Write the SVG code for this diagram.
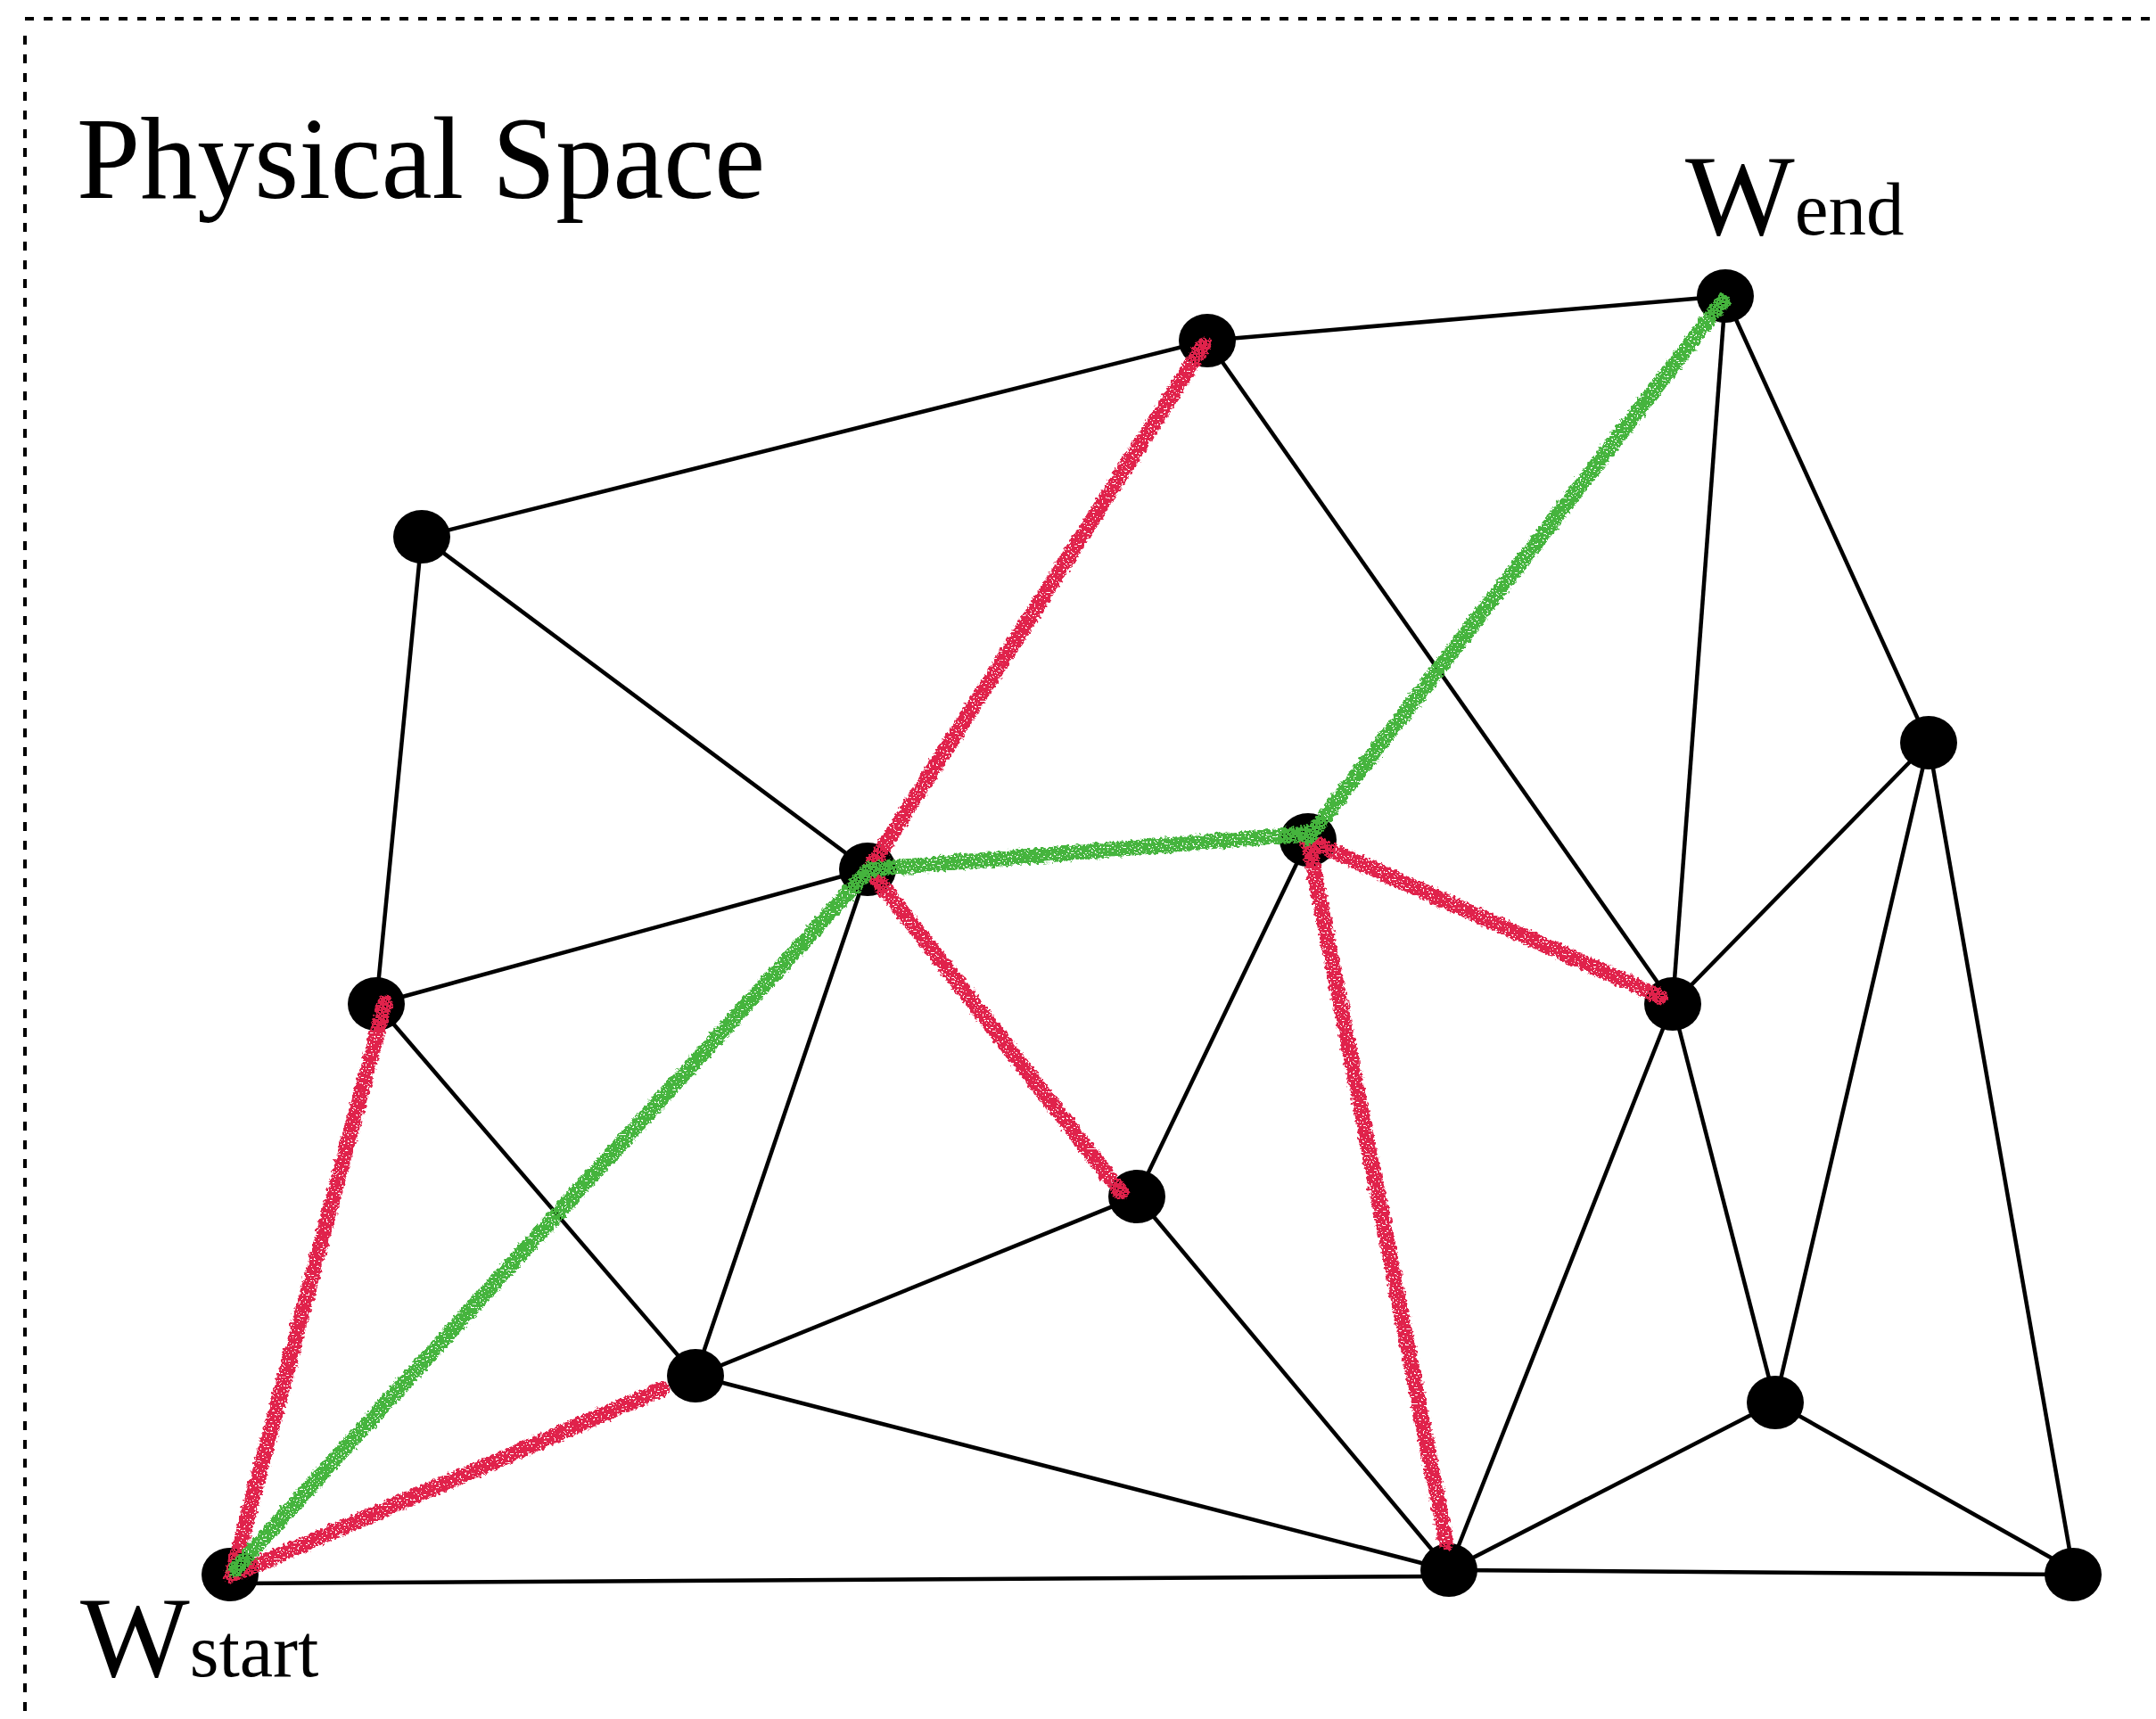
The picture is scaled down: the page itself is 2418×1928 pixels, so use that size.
<svg xmlns="http://www.w3.org/2000/svg" width="2418" height="1928" viewBox="0 0 2418 1928">
<style>
.edge{stroke:#000;stroke-width:4.5;fill:none}
.node{fill:#000}
.red{stroke:#E0224B;stroke-width:17;stroke-linecap:round;fill:none}
.green{stroke:#45B43D;stroke-width:17;stroke-linecap:round;fill:none}
.lbl{font-family:"Liberation Serif","Times New Roman",serif;fill:#000}
</style>
<defs>
<filter id="rough" filterUnits="userSpaceOnUse" x="0" y="0" width="2418" height="1928">
<feTurbulence type="fractalNoise" baseFrequency="0.25" numOctaves="2" seed="3" result="n"/>
<feDisplacementMap in="SourceGraphic" in2="n" scale="8" xChannelSelector="R" yChannelSelector="G" result="d"/>
<feTurbulence type="fractalNoise" baseFrequency="0.5" numOctaves="1" seed="7" result="n2"/>
<feColorMatrix in="n2" type="matrix" values="0 0 0 0 0  0 0 0 0 0  0 0 0 0 0  30 0 0 0 -9.6" result="m"/>
<feComposite in="d" in2="m" operator="in"/>
</filter>
</defs>
<rect width="2418" height="1928" fill="#fff"/>
<g id="frame">
<line x1="28" y1="21" x2="2418" y2="21" stroke="#000" stroke-width="4" stroke-dasharray="10 11"/>
<line x1="28" y1="40" x2="28" y2="1928" stroke="#000" stroke-width="4" stroke-dasharray="10 11"/>
</g>
<text id="title" class="lbl" x="86" y="222" font-size="131" textLength="772" lengthAdjust="spacingAndGlyphs">Physical Space</text>
<g id="connectors">
<line class="edge" x1="1354" y1="382" x2="1935" y2="332"/>
<line class="edge" x1="1354" y1="382" x2="473" y2="602"/>
<line class="edge" x1="1354" y1="382" x2="1876" y2="1126"/>
<line class="edge" x1="1935" y1="332" x2="1876" y2="1126"/>
<line class="edge" x1="1935" y1="332" x2="2163" y2="833"/>
<line class="edge" x1="473" y1="602" x2="973" y2="975"/>
<line class="edge" x1="473" y1="602" x2="422" y2="1126"/>
<line class="edge" x1="422" y1="1126" x2="973" y2="975"/>
<line class="edge" x1="422" y1="1126" x2="780" y2="1543"/>
<line class="edge" x1="973" y1="975" x2="780" y2="1543"/>
<line class="edge" x1="1467" y1="942" x2="1275" y2="1342"/>
<line class="edge" x1="1275" y1="1342" x2="780" y2="1543"/>
<line class="edge" x1="1275" y1="1342" x2="1625" y2="1761"/>
<line class="edge" x1="780" y1="1543" x2="1625" y2="1761"/>
<line class="edge" x1="258" y1="1776" x2="1625" y2="1768"/>
<line class="edge" x1="1625" y1="1761" x2="1876" y2="1126"/>
<line class="edge" x1="1625" y1="1761" x2="1991" y2="1573"/>
<line class="edge" x1="1625" y1="1761" x2="2325" y2="1766"/>
<line class="edge" x1="1876" y1="1126" x2="2163" y2="833"/>
<line class="edge" x1="1876" y1="1126" x2="1991" y2="1573"/>
<line class="edge" x1="2163" y1="833" x2="1991" y2="1573"/>
<line class="edge" x1="2163" y1="833" x2="2325" y2="1761"/>
<line class="edge" x1="1991" y1="1573" x2="2325" y2="1761"/>
</g>
<g id="nodes">
<ellipse id="n1" class="node" cx="1354" cy="382" rx="32" ry="30"/>
<ellipse id="n2" class="node" cx="1935" cy="332" rx="32" ry="30"/>
<ellipse id="n3" class="node" cx="473" cy="602" rx="32" ry="30"/>
<ellipse id="n4" class="node" cx="2163" cy="833" rx="32" ry="30"/>
<ellipse id="n5" class="node" cx="973" cy="975" rx="32" ry="30"/>
<ellipse id="n6" class="node" cx="1467" cy="942" rx="32" ry="30"/>
<ellipse id="n7" class="node" cx="422" cy="1126" rx="32" ry="30"/>
<ellipse id="n8" class="node" cx="1876" cy="1126" rx="32" ry="30"/>
<ellipse id="n9" class="node" cx="1275" cy="1342" rx="32" ry="30"/>
<ellipse id="n10" class="node" cx="780" cy="1543" rx="32" ry="30"/>
<ellipse id="n11" class="node" cx="1991" cy="1573" rx="32" ry="30"/>
<ellipse id="n12" class="node" cx="258" cy="1766" rx="32" ry="30"/>
<ellipse id="n13" class="node" cx="1625" cy="1761" rx="32" ry="30"/>
<ellipse id="n14" class="node" cx="2325" cy="1766" rx="32" ry="30"/>
</g>
<g id="paths" filter="url(#rough)">
<line class="red" x1="1350" y1="387" x2="975" y2="975"/>
<line class="red" x1="975" y1="975" x2="1257" y2="1337"/>
<line class="red" x1="1467" y1="942" x2="1862" y2="1118"/>
<line class="red" x1="1467" y1="942" x2="1622" y2="1730"/>
<line class="red" x1="432" y1="1125" x2="260" y2="1767"/>
<line class="red" x1="260" y1="1767" x2="742" y2="1558"/>
<line class="green" x1="264" y1="1760" x2="975" y2="975"/>
<line class="green" x1="975" y1="975" x2="1467" y2="935"/>
<line class="green" x1="1467" y1="940" x2="1932" y2="338"/>
</g>
<text id="wend" class="lbl" x="1890" y="263"><tspan font-size="130">W</tspan><tspan font-size="85">end</tspan></text>
<text id="wstart" class="lbl" x="90" y="1880"><tspan font-size="130">W</tspan><tspan font-size="84">start</tspan></text>
</svg>
